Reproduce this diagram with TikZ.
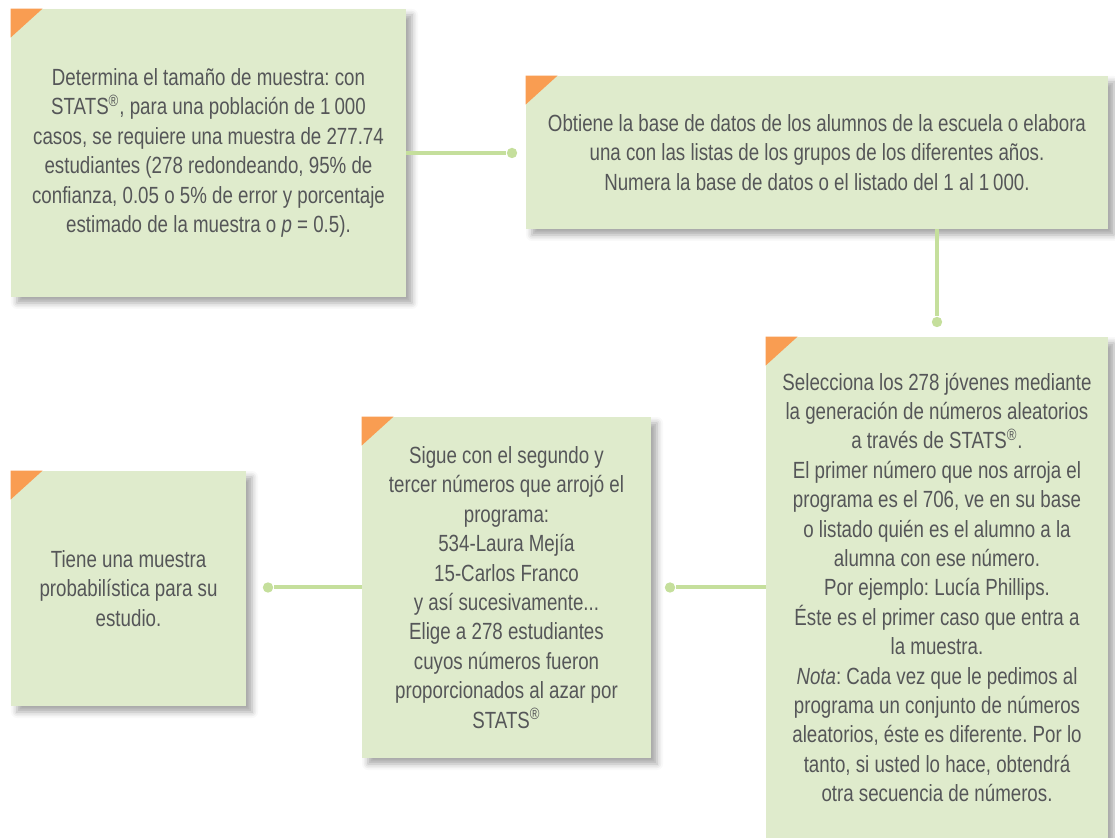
\documentclass[tikz,border=0pt]{standalone}
\usepackage{fontspec}
\setmainfont{Liberation Sans}[FakeStretch=0.8]
\usetikzlibrary{shadows.blur}

\definecolor{boxgreen}{HTML}{DFEBCC}
\definecolor{linkgreen}{HTML}{C5DF9C}
\definecolor{cornerorange}{HTML}{F99D52}
\definecolor{textgray}{HTML}{555658}

\newcommand{\stats}{STATS\textsuperscript{®}}

\begin{document}
\begin{tikzpicture}[x=0.5pt, y=-0.5pt,
    card/.style={fill=boxgreen, inner sep=0pt, align=center, text=textgray,
        font=\fontsize{11.7pt}{14.7pt}\selectfont\frenchspacing,
        blur shadow={shadow xshift=3pt, shadow yshift=-3pt,
            shadow blur radius=3pt, shadow opacity=35}},
    link/.style={linkgreen, line width=2pt},
    dot/.style={circle, fill=linkgreen, inner sep=0pt, minimum size=5.2pt}]
    \useasboundingbox (0,0) rectangle (1115,838);

    % Cards
    \node[card, minimum width=197.5pt, minimum height=144pt] (tamano) at (208.5,153)
        {Determina el tamaño de muestra: con\\
         \stats, para una población de 1\,000\\
         casos, se requiere una muestra de 277.74\\
         estudiantes (278 redondeando, 95\% de\\
         confianza, 0.05 o 5\% de error y porcentaje\\
         estimado de la muestra o \textit{p} = 0.5).};
    \node[card, minimum width=291pt, minimum height=76.5pt] (base) at (817,152.5)
        {Obtiene la base de datos de los alumnos de la escuela o elabora\\
         una con las listas de los grupos de los diferentes años.\\
         Numera la base de datos o el listado del 1 al 1\,000.};
    \node[card, minimum width=171pt, minimum height=250.5pt] (selecciona) at (937,587.5)
        {Selecciona los 278 jóvenes mediante\\
         la generación de números aleatorios\\
         a través de \stats.\\
         El primer número que nos arroja el\\
         programa es el 706, ve en su base\\
         o listado quién es el alumno a la\\
         alumna con ese número.\\
         Por ejemplo: Lucía Phillips.\\
         Éste es el primer caso que entra a\\
         la muestra.\\
         \textit{Nota}: Cada vez que le pedimos al\\
         programa un conjunto de números\\
         aleatorios, éste es diferente. Por lo\\
         tanto, si usted lo hace, obtendrá\\
         otra secuencia de números.};
    \node[card, minimum width=144.5pt, minimum height=170.5pt] (sigue) at (506.5,587.5)
        {Sigue con el segundo y\\
         tercer números que arrojó el\\
         programa:\\
         534-Laura Mejía\\
         15-Carlos Franco\\
         y así sucesivamente...\\
         Elige a 278 estudiantes\\
         cuyos números fueron\\
         proporcionados al azar por\\
         \stats};
    \node[card, minimum width=117.5pt, minimum height=117.5pt] (muestra) at (128.5,588.5)
        {Tiene una muestra\\
         probabilística para su\\
         estudio.};

    % Orange corners
    \foreach \b in {tamano,base,selecciona,sigue,muestra}
        \fill[cornerorange] (\b.north west) -- ++(32,0) -- ++(-32,29) -- cycle;

    % Connector dots
    \node[dot] (d1) at (512,153) {};
    \node[dot] (d2) at (937,322) {};
    \node[dot] (d3) at (670,587.5) {};
    \node[dot] (d4) at (268,587.5) {};

    % Connectors
    \draw[link] (tamano.east) -- (d1);
    \draw[link] (base.south -| d2) -- (d2);
    \draw[link] (selecciona.west) -- (d3);
    \draw[link] (sigue.west) -- (d4);
\end{tikzpicture}
\end{document}
